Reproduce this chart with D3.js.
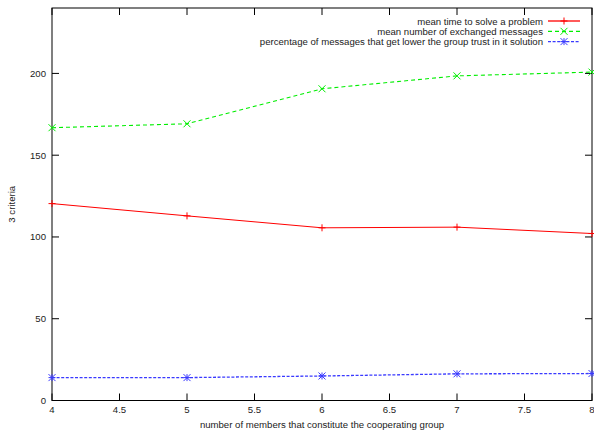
<!DOCTYPE html>
<html><head><meta charset="utf-8">
<script src="https://cdn.jsdelivr.net/npm/d3@7"></script>
<style>body{margin:0;background:#fff}svg{display:block}text{font-family:"Liberation Sans",Arial,sans-serif;fill:#222}</style>
</head><body><svg id="c" width="594" height="432"></svg>
<script>
const groupSizes = [4, 5, 6, 7, 8];
const meanTime = [120.4, 112.9, 105.6, 106.0, 102.1];
const meanMessages = [166.8, 169.2, 190.6, 198.5, 200.8];
const pctLowerTrust = [14.0, 14.0, 15.0, 16.3, 16.5];
const xTicks = [4, 4.5, 5, 5.5, 6, 6.5, 7, 7.5, 8];
const yTicks = [0, 50, 100, 150, 200];
const seriesNames = ["mean time to solve a problem", "mean number of exchanged messages", "percentage of messages that get lower the group trust in it solution"];

const svg = d3.select("#c");
const L = 52, R = 592, T = 8, B = 400.5;
const FS = 9.6;
const x = d3.scaleLinear().domain([4, 8]).range([L, R]);
const y = d3.scaleLinear().domain([0, 240]).range([B, T]);

const series = [
  {name: seriesNames[0], vals: meanTime, color: "#ff0000", dash: null, mark: "plus", w: 1},
  {name: seriesNames[1], vals: meanMessages, color: "#00ee00", dash: "4,3", mark: "cross", w: 1.1},
  {name: seriesNames[2], vals: pctLowerTrust, color: "#3a3aff", dash: "3,1.6", mark: "star", w: 1.3}
];

const tl = 7;
const g = svg.append("g");
xTicks.forEach(t => {
  g.append("line").attr("x1", x(t)).attr("x2", x(t)).attr("y1", B).attr("y2", B - tl).attr("stroke", "#000");
  g.append("line").attr("x1", x(t)).attr("x2", x(t)).attr("y1", T).attr("y2", T + tl).attr("stroke", "#000");
  g.append("text").attr("x", x(t)).attr("y", 413).attr("text-anchor", "middle").attr("font-size", FS).text(t);
});
yTicks.forEach(t => {
  g.append("line").attr("x1", L).attr("x2", L + tl).attr("y1", y(t)).attr("y2", y(t)).attr("stroke", "#000");
  g.append("line").attr("x1", R).attr("x2", R - tl).attr("y1", y(t)).attr("y2", y(t)).attr("stroke", "#000");
  g.append("text").attr("x", 46).attr("y", y(t) + 3.5).attr("text-anchor", "end").attr("font-size", FS).text(t);
});
svg.append("rect").attr("x", L).attr("y", T).attr("width", R - L).attr("height", B - T).attr("fill", "none").attr("stroke", "#000").attr("stroke-width", 1);

svg.append("text").attr("x", (L + R) / 2).attr("y", 428).attr("text-anchor", "middle").attr("font-size", FS).text("number of members that constitute the cooperating group");
svg.append("text").attr("transform", "translate(15," + ((T + B) / 2) + ") rotate(-90)").attr("text-anchor", "middle").attr("font-size", FS).text("3 criteria");

function marker(sel, type, cx, cy, color) {
  const s = 3.5;
  const p = [];
  if (type === "plus" || type === "star") { p.push([cx - s, cy, cx + s, cy], [cx, cy - s, cx, cy + s]); }
  if (type === "cross" || type === "star") { p.push([cx - s, cy - s, cx + s, cy + s], [cx - s, cy + s, cx + s, cy - s]); }
  p.forEach(a => sel.append("line").attr("x1", a[0]).attr("y1", a[1]).attr("x2", a[2]).attr("y2", a[3]).attr("stroke", color).attr("stroke-width", 1));
}

const line = d3.line().x(d => x(d[0])).y(d => y(d[1]));
const plot = svg.append("g");
series.forEach(s => {
  const pts = groupSizes.map((gs, i) => [gs, s.vals[i]]);
  plot.append("path").attr("d", line(pts)).attr("fill", "none").attr("stroke", s.color).attr("stroke-width", s.w).attr("stroke-dasharray", s.dash);
  pts.forEach(p => marker(plot, s.mark, x(p[0]), y(p[1]), s.color));
});

const leg = svg.append("g");
series.forEach((s, i) => {
  const ly = 21 + i * 10.3;
  leg.append("text").attr("x", 543).attr("y", ly + 3.5).attr("text-anchor", "end").attr("font-size", FS).text(s.name);
  leg.append("line").attr("x1", 548).attr("x2", 580).attr("y1", ly).attr("y2", ly).attr("stroke", s.color).attr("stroke-width", 1.3).attr("stroke-dasharray", s.dash);
  marker(leg, s.mark, 564, ly, s.color);
});
</script></body></html>
